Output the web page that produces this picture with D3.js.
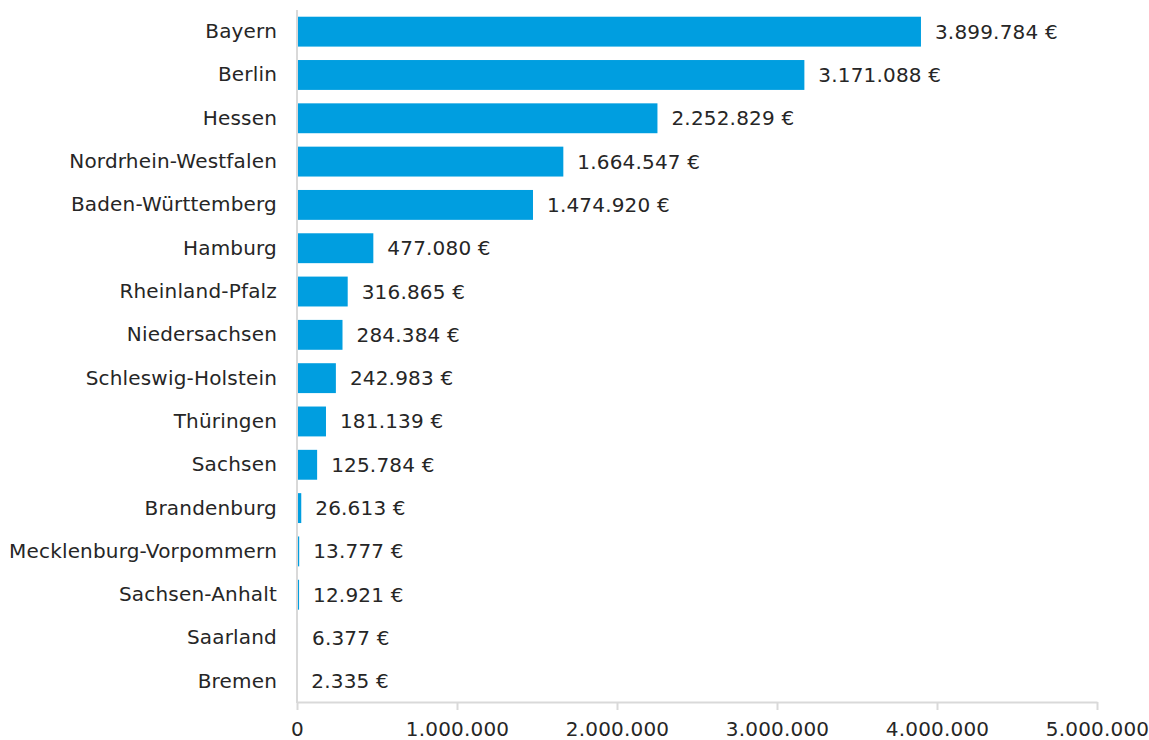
<!DOCTYPE html>
<html><head><meta charset="utf-8">
<script src="https://cdn.jsdelivr.net/npm/d3@7/dist/d3.min.js"></script>
<style>
html,body{margin:0;padding:0;background:#fff;}
svg{display:block;font-family:"DejaVu Sans",Verdana,sans-serif;}
</style></head><body>
<svg id="c" width="1149" height="740"></svg>
<script>
const categories = ["Bayern","Berlin","Hessen","Nordrhein-Westfalen","Baden-Württemberg","Hamburg","Rheinland-Pfalz","Niedersachsen","Schleswig-Holstein","Thüringen","Sachsen","Brandenburg","Mecklenburg-Vorpommern","Sachsen-Anhalt","Saarland","Bremen"];
const values = [3899784,3171088,2252829,1664547,1474920,477080,316865,284384,242983,181139,125784,26613,13777,12921,6377,2335];
const valueLabels = ["3.899.784 €","3.171.088 €","2.252.829 €","1.664.547 €","1.474.920 €","477.080 €","316.865 €","284.384 €","242.983 €","181.139 €","125.784 €","26.613 €","13.777 €","12.921 €","6.377 €","2.335 €"];
const tickValues = [0,1000000,2000000,3000000,4000000,5000000];
const tickLabels = ["0","1.000.000","2.000.000","3.000.000","4.000.000","5.000.000"];

const FS = 20;
const LS = 0.18;
const svg = d3.select("#c");
const x = d3.scaleLinear().domain([0,5000000]).range([297,1097]);
const y = d3.scaleBand().domain(categories).range([10,703]).paddingInner(0.31).paddingOuter(0.155);

// bars
svg.append("g").selectAll("rect").data(values).join("rect")
  .attr("x", x(0)+1)
  .attr("y",(d,i)=>y(categories[i]))
  .attr("width",d=>Math.max(0,x(d)-x(0)-1))
  .attr("height",y.bandwidth())
  .attr("fill","#009EE0");

// x axis
const xa = svg.append("g").attr("transform","translate(0,702)")
  .call(d3.axisBottom(x).tickValues(tickValues).tickFormat((d,i)=>tickLabels[i]).tickSize(8).tickSizeOuter(0));
xa.select(".domain").attr("stroke","#d9d9d9").attr("stroke-width",2);
xa.selectAll(".tick line").attr("stroke","#d9d9d9").attr("stroke-width",2);
xa.selectAll(".tick text").attr("font-size",FS).attr("letter-spacing",LS).attr("fill","#262626").attr("dy",null).attr("y",34).attr("font-family","DejaVu Sans, Verdana, sans-serif");

// y axis
const ya = svg.append("g").attr("transform","translate(297,0)")
  .call(d3.axisLeft(y).tickSize(0).tickPadding(20));
ya.select(".domain").attr("stroke","#d9d9d9").attr("stroke-width",2).attr("d","M0,10V703");
ya.selectAll(".tick text").attr("font-size",FS).attr("letter-spacing",LS).attr("fill","#262626").attr("font-family","DejaVu Sans, Verdana, sans-serif");

// value labels
svg.append("g").selectAll("text").data(values).join("text")
  .attr("x",d=>x(d)+14)
  .attr("y",(d,i)=>y(categories[i])+y.bandwidth()/2)
  .attr("dy","0.35em")
  .attr("font-size",FS).attr("letter-spacing",LS).attr("fill","#262626")
  .text((d,i)=>valueLabels[i]);
</script>
</body></html>
